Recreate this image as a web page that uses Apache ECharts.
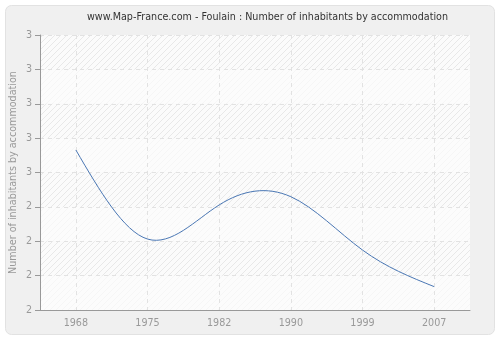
<!DOCTYPE html>
<html><head><meta charset="utf-8">
<script src="https://cdn.jsdelivr.net/npm/echarts@6/dist/echarts.min.js"></script>
<style>html,body{margin:0;padding:0;background:#fff}#c{width:500px;height:340px}</style>
</head><body><div id="c"></div>
<script>
var years = ['1968', '1975', '1982', '1990', '1999', '2007'];
var values = [2.582, 2.258, 2.382, 2.412, 2.218, 2.085];
var yMin = 2, yMax = 3, yStep = 0.125;

var pc = document.createElement('canvas');
pc.width = 6; pc.height = 6;
var g = pc.getContext('2d');
g.fillStyle = '#fbfbfb'; g.fillRect(0, 0, 6, 6);
g.strokeStyle = '#e8e8e8'; g.lineWidth = 1;
g.beginPath(); g.moveTo(0, 6); g.lineTo(6, 0); g.moveTo(-3, 3); g.lineTo(3, -3); g.moveTo(3, 9); g.lineTo(9, 3); g.stroke();

// natural cubic spline through pixel points (uniform parameter), drawn as bezier segments
function splinePaths(pts, color) {
  var n = pts.length, M = new Array(n).fill(0);
  if (n > 2) {
    var a = [], b = [], c = [], d = [];
    for (var i = 1; i < n - 1; i++) {
      a.push(1); b.push(4); c.push(1);
      d.push(6 * (pts[i + 1][1] - 2 * pts[i][1] + pts[i - 1][1]));
    }
    var m = d.length;
    for (var k = 1; k < m; k++) {
      var w = a[k] / b[k - 1];
      b[k] -= w * c[k - 1]; d[k] -= w * d[k - 1];
    }
    var sol = new Array(m);
    sol[m - 1] = d[m - 1] / b[m - 1];
    for (var k2 = m - 2; k2 >= 0; k2--) sol[k2] = (d[k2] - c[k2] * sol[k2 + 1]) / b[k2];
    for (var j = 0; j < m; j++) M[j + 1] = sol[j];
  }
  var der = [];
  for (var i2 = 0; i2 < n; i2++) {
    if (i2 < n - 1) der.push((pts[i2 + 1][1] - pts[i2][1]) - (2 * M[i2] + M[i2 + 1]) / 6);
    else der.push((pts[i2][1] - pts[i2 - 1][1]) + (M[i2 - 1] + 2 * M[i2]) / 6);
  }
  var out = [];
  for (var s = 0; s < n - 1; s++) {
    var dx = pts[s + 1][0] - pts[s][0];
    out.push({
      type: 'bezierCurve',
      shape: {
        x1: pts[s][0], y1: pts[s][1], x2: pts[s + 1][0], y2: pts[s + 1][1],
        cpx1: pts[s][0] + dx / 3, cpy1: pts[s][1] + der[s] / 3,
        cpx2: pts[s + 1][0] - dx / 3, cpy2: pts[s + 1][1] - der[s + 1] / 3
      },
      style: {fill: null, stroke: color, lineWidth: 1}
    });
  }
  return out;
}

var seriesData = values.map(function (v, i) { return [i, v]; });

var chart = echarts.init(document.getElementById('c'), null, {renderer: 'canvas'});
chart.setOption({
  backgroundColor: '#ffffff',
  animation: false,
  graphic: [{
    type: 'rect', z: -10, silent: true,
    shape: {x: 5.5, y: 5.5, width: 489, height: 329, r: 6},
    style: {fill: '#f0f0f0', stroke: '#e2e2e2', lineWidth: 1}
  }],
  title: {
    text: 'www.Map-France.com - Foulain : Number of inhabitants by accommodation',
    left: 82, top: 7,
    textStyle: {fontFamily: 'DejaVu Sans', fontSize: 9.6, fontWeight: 'normal', color: '#333'}
  },
  grid: {left: 40, right: 30, top: 35, bottom: 30, show: true, borderWidth: 0,
    containLabel: false, outerBoundsMode: 'none',
    backgroundColor: {image: pc, repeat: 'repeat'}},
  xAxis: {
    type: 'category', data: years, boundaryGap: true,
    axisLine: {lineStyle: {color: '#999', width: 1}},
    axisTick: {alignWithLabel: true, length: 5, lineStyle: {color: '#999'}},
    axisLabel: {color: '#999', fontFamily: 'DejaVu Sans', fontSize: 9.6, margin: 8},
    splitLine: {show: true, alignWithLabel: true, lineStyle: {color: '#e2e2e2', type: [4, 4]}}
  },
  yAxis: {
    type: 'value', min: yMin, max: yMax, interval: yStep,
    name: 'Number of inhabitants by accommodation', nameLocation: 'middle', nameGap: 22,
    nameMoveOverlap: false,
    nameTextStyle: {color: '#999', fontFamily: 'DejaVu Sans', fontSize: 9.6},
    axisLine: {show: true, lineStyle: {color: '#999', width: 1}},
    axisTick: {show: true, length: 5, lineStyle: {color: '#999'}},
    axisLabel: {color: '#999', fontFamily: 'DejaVu Sans', fontSize: 9.6, margin: 8,
      formatter: function (v) { return String(Math.round(v)); }},
    splitLine: {show: true, lineStyle: {color: '#e2e2e2', type: [4, 4]}},
    splitArea: {show: true, areaStyle: {color: ['rgba(252,252,252,0.7)', 'rgba(255,255,255,0)']}}
  },
  series: [{
    type: 'custom', data: seriesData, encode: {x: 0, y: 1},
    renderItem: function (params, api) {
      if (params.dataIndex !== 0) return null;
      var pts = values.map(function (v, i) { return api.coord([i, v]); });
      return {type: 'group', children: splinePaths(pts, '#4a77b4')};
    }
  }]
});
</script></body></html>
